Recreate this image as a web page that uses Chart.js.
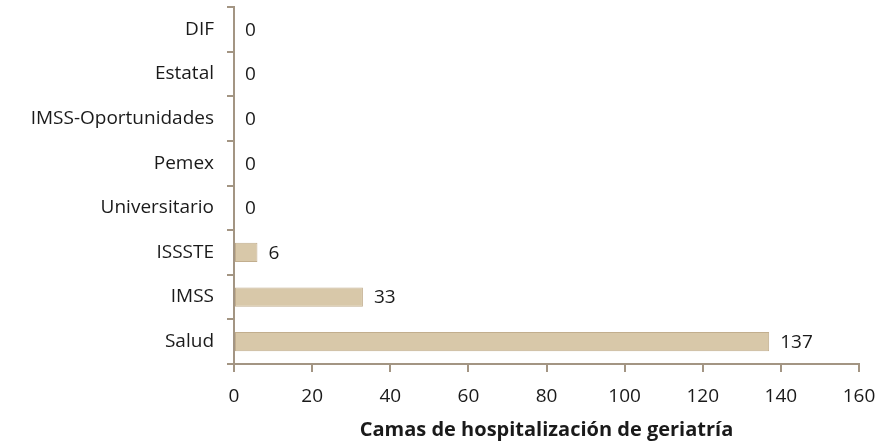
<!DOCTYPE html>
<html>
<head>
<meta charset="utf-8">
<script src="https://cdn.jsdelivr.net/npm/chart.js@4"></script>
<style>
  html, body { margin: 0; padding: 0; background: #fff; }
  #wrap { width: 878px; height: 442px; }
</style>
</head>
<body>
<div id="wrap"><canvas id="chart" width="878" height="442"></canvas></div>
<script>
// ── Data ───────────────────────────────────────────────────
const categories = ['DIF', 'Estatal', 'IMSS-Oportunidades', 'Pemex', 'Universitario', 'ISSSTE', 'IMSS', 'Salud'];
const camas = [0, 0, 0, 0, 0, 6, 33, 137];
const xTicks = [0, 20, 40, 60, 80, 100, 120, 140, 160];
const xTitle = 'Camas de hospitalización de geriatría';

// ── Style ──────────────────────────────────────────────────
const FONT = "'Open Sans', 'Noto Sans', sans-serif";
const TEXT = '#1a1a1a';
const AXIS = '#a39583';

// value labels at the end of each bar
const valueLabels = {
  id: 'valueLabels',
  afterDatasetsDraw(chart) {
    const { ctx } = chart;
    const meta = chart.getDatasetMeta(0);
    ctx.save();
    ctx.font = `19px ${FONT}`;
    ctx.fillStyle = TEXT;
    ctx.textAlign = 'left';
    ctx.textBaseline = 'middle';
    meta.data.forEach((bar, i) => {
      ctx.fillText(String(camas[i]), bar.x + 11, bar.y + 1);
    });
    ctx.restore();
  }
};

new Chart(document.getElementById('chart'), {
  type: 'bar',
  data: {
    labels: categories,
    datasets: [{
      data: camas,
      backgroundColor: '#d8c8a9',
      borderColor: '#c2ae8e',
      borderWidth: 1,
      borderSkipped: false,
      categoryPercentage: 1,
      barPercentage: 0.43,
    }],
  },
  options: {
    indexAxis: 'y',
    responsive: false,
    animation: false,
    layout: { padding: { left: 0, right: 19, top: 7, bottom: 0 } },
    plugins: {
      legend: { display: false },
      tooltip: { enabled: false },
    },
    scales: {
      x: {
        min: 0,
        max: 160,
        afterBuildTicks: s => { s.ticks = xTicks.map(v => ({ value: v })); },
        afterFit: s => { s.height = 78; s.paddingLeft = 0; s.paddingRight = 0; },
        border: { color: AXIS, width: 2 },
        grid: { drawOnChartArea: false, color: AXIS, lineWidth: 2, tickLength: 8 },
        ticks: { color: TEXT, font: { family: FONT, size: 19 }, padding: 13, maxRotation: 0 },
        title: {
          display: true,
          text: xTitle,
          color: TEXT,
          font: { family: FONT, size: 20, weight: 'bold' },
          padding: { top: 4, bottom: 0 },
        },
      },
      y: {
        afterFit: s => { s.width = 234; s.paddingTop = 0; s.paddingBottom = 0; },
        border: { color: AXIS, width: 2 },
        grid: { drawOnChartArea: false, color: AXIS, lineWidth: 2, tickLength: 7, offset: true },
        ticks: { color: TEXT, font: { family: FONT, size: 19 }, padding: 13 },
      },
    },
  },
  plugins: [valueLabels],
});
</script>
</body>
</html>
